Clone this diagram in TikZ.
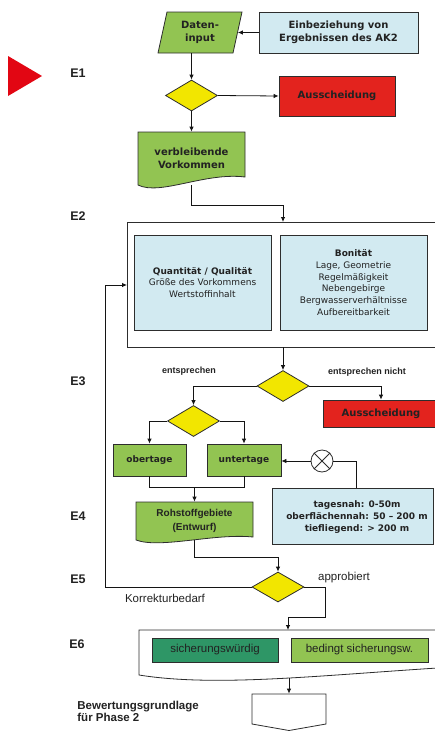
\documentclass[tikz,border=0pt]{standalone}
\usepackage{fontspec}
\setmainfont{Liberation Sans}
\newfontfamily\vfont{DejaVu Sans}
\usetikzlibrary{shapes.geometric,arrows.meta}
\definecolor{lgreen}{RGB}{146,196,82}
\definecolor{lblue}{RGB}{210,234,241}
\definecolor{dred}{RGB}{227,35,30}
\definecolor{dyellow}{RGB}{242,230,0}
\definecolor{dgreen}{RGB}{46,150,102}
\definecolor{tred}{RGB}{226,6,19}
\definecolor{txt}{RGB}{34,34,34}
\definecolor{bc}{RGB}{45,45,45}
\definecolor{lc}{RGB}{20,20,20}
\begin{document}
\begin{tikzpicture}[x=1pt,y=-1pt,line width=0.8pt,
  every node/.style={text=txt,inner sep=0pt,align=center},
  arr/.style={draw=lc,-{Latex[length=5pt,width=4.5pt]}},
  ln/.style={draw=lc},
  box/.style={draw=bc,rectangle},
  dia/.style={diamond,draw=bc,fill=dyellow,inner sep=0pt,minimum width=52pt,minimum height=31pt},
  vb/.style={font=\vfont\bfseries\fontsize{10}{12.6}\selectfont},
  vbs/.style={font=\vfont\bfseries\fontsize{9}{12}\selectfont},
  vr/.style={font=\vfont\fontsize{9}{11.7}\selectfont},
  ab/.style={font=\bfseries\fontsize{9}{11}\selectfont},
  ar/.style={font=\fontsize{11.5}{13}\selectfont},
  elab/.style={anchor=west,font=\bfseries\fontsize{12.5}{14}\selectfont}]
\clip (0,0) rectangle (435,731);
% left column
\fill[tred] (8,56) -- (42,76) -- (8,96) -- cycle;
\node[elab] (e1) at (70,73) {E1};
\node[elab] (e2) at (70,216) {E2};
\node[elab] (e3) at (70,381) {E3};
\node[elab] (e4) at (70,516) {E4};
\node[elab] (e5) at (70,579) {E5};
\node[elab] (e6) at (69,644) {E6};
\node[anchor=west,align=left,font=\bfseries\fontsize{11.5}{12.2}\selectfont] (bew) at (77,711) {Bewertungsgrundlage\\für Phase 2};
% E1
\draw[bc,fill=lgreen] (167,12) -- (242,12) -- (233,53) -- (158,53) -- cycle;
\node[vb,minimum width=75pt,minimum height=41pt] (datain) at (200,32.5) {Daten-\\input};
\node[box,fill=lblue,vb,minimum width=159pt,minimum height=41pt] (ak2) at (338.5,32.5) {Einbeziehung von\\Ergebnissen des AK2};
\draw[arr] (ak2.west) -- (datain.east);
\node[dia] (d1) at (191.5,95.5) {};
\draw[arr] (datain.south -| d1.north) -- (d1.north);
\node[box,fill=dred,vb,minimum width=116pt,minimum height=40pt] (aus1) at (337,96) {Ausscheidung};
\draw[arr] (d1.east) -- (aus1.west);
\draw[bc,fill=lgreen] (138,132) -- (245,132) -- (245,177) .. controls (205,172) and (160,196) .. (138,185) -- cycle;
\node[vb,minimum width=107pt,minimum height=53pt] (vbn) at (191.5,158.5) {verbleibende\\Vorkommen};
\draw[arr] (d1.south) -- (vbn.north);
% E2
\coordinate (bigtop) at (283,222);
\coordinate (bigbot) at (283,347);
\coordinate (bigleft) at (127,285);
\draw[bc] (450,222) -- (127,222) -- (127,347) -- (450,347);
\draw[arr] (vbn.south) -- ++(0,20) -| (bigtop);
\node[box,fill=lblue,vr,minimum width=137pt,minimum height=95pt] (quant) at (202.5,282.5) {{\bfseries Quantität / Qualität}\\Größe des Vorkommens\\Wertstoffinhalt};
\node[box,fill=lblue,vr,minimum width=147pt,minimum height=95pt] (bonit) at (353.5,282.5) {{\bfseries Bonität}\\Lage, Geometrie\\Regelmäßigkeit\\Nebengebirge\\Bergwasserverhältnisse\\Aufbereitbarkeit};
% E3
\node[dia] (d2) at (283,386) {};
\draw[arr] (bigbot) -- (d2.north);
\node[ab] (l1) at (189,371) {entsprechen};
\node[ab] (l2) at (367,372) {entsprechen nicht};
\node[box,fill=dred,vb,minimum width=116pt,minimum height=27pt] (aus2) at (381,413.5) {Ausscheidung};
\draw[arr] (d2.east) -| (aus2.north);
\node[dia] (d3) at (193.5,421) {};
\draw[arr] (d2.west) -| (d3.north);
\node[box,fill=lgreen,vbs,minimum width=73pt,minimum height=32pt] (ober) at (149.5,460) {obertage};
\node[box,fill=lgreen,vbs,minimum width=74pt,minimum height=32pt] (unter) at (244,460) {untertage};
\draw[arr] (d3.west) -| (ober.north);
\draw[arr] (d3.east) -| (unter.north);
\node[circle,draw=bc,fill=white,minimum size=22pt] (cx) at (322,461) {};
\draw[bc] (cx.north west) -- (cx.south east) (cx.north east) -- (cx.south west);
\draw[arr] (cx.west) -- (cx.west -| unter.east);
\node[box,fill=lblue,minimum width=161pt,minimum height=56pt] (tage) at (352.5,516) {};
\node[vbs,font=\vfont\bfseries\fontsize{9}{12}\selectfont] (tagetxt) at (357,517) {tagesnah: 0-50m\\oberflächennah: 50 – 200 m\\tiefliegend: > 200 m};
\draw[ln] (cx.east) -| ([xshift=3.5pt]tage.north);
% E4
\draw[ln] (ober.south) -- ++(0,11) -| (unter.south);
\draw[bc,fill=lgreen] (136,502) -- (253,502) -- (253,537) .. controls (215,533) and (160,549) .. (136,540) -- cycle;
\node[font=\bfseries\fontsize{10}{14}\selectfont,minimum width=117pt,minimum height=38pt] (roh) at (194.5,521) {Rohstoffgebiete\\(Entwurf)};
\coordinate (join) at (194.5,487);
\draw[arr] (join) -- (roh.north);
% E5
\node[dia,minimum height=30pt] (d4) at (278,587) {};
\draw[arr] (roh.south) -- ++(0,17) -| (d4.north);
\draw[arr] (d4.west) -- ++(-146,0) |- (bigleft);
\node[ar] (korr) at (165,598) {Korrekturbedarf};
\node[ar] (appr) at (344,578) {approbiert};
\coordinate (e6top) at (288,630);
\draw[arr] (d4.east) -- ++(21,0) -- ++(0,30) -| (e6top);
% E6
\draw[bc,fill=white] (480,630) -- (139,630) -- (139,675) .. controls (220,688) and (330,674) .. (470,666);
\node[box,fill=dgreen,ar,minimum width=126pt,minimum height=24pt] (sicher) at (215,650) {sicherungswürdig};
\node[box,fill=lgreen,ar,minimum width=137pt,minimum height=24pt] (bed) at (359.5,650) {bedingt sicherungsw.};
\coordinate (e6bot) at (289,678);
\draw[bc,fill=white] (252,694) -- (326,694) -- (326,724) -- (289,730.5) -- (252,724) -- cycle;
\node[minimum width=74pt,minimum height=30pt] (fin) at (289,709) {};
\draw[arr] (e6bot) -- (fin.north);
\end{tikzpicture}
\end{document}
